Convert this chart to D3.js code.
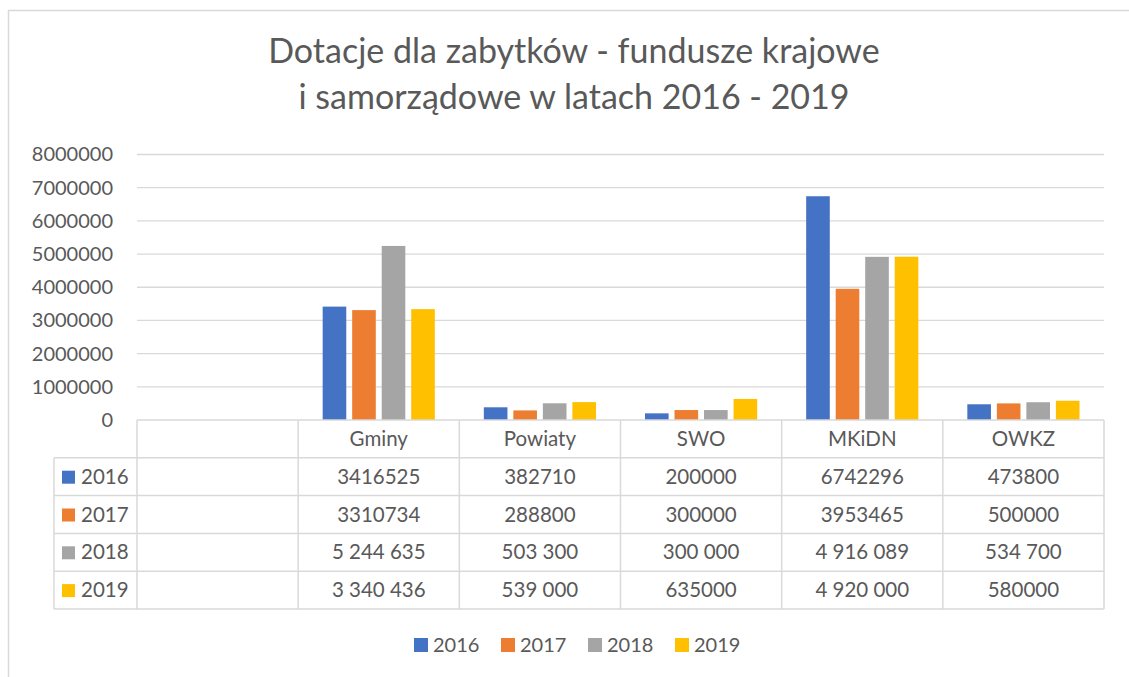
<!DOCTYPE html>
<html>
<head>
<meta charset="utf-8">
<script src="https://cdn.jsdelivr.net/npm/d3@7"></script>
<style>
  body { margin: 0; background: #fff; }
  svg { display: block; font-family: Lato, "Open Sans", sans-serif; }
</style>
</head>
<body>
<svg id="chart" width="1129" height="677"></svg>
<script>
// data (first category is empty in the source)
let categories = ['', 'Gminy', 'Powiaty', 'SWO', 'MKiDN', 'OWKZ'];
let years = ['2016', '2017', '2018', '2019'];
let values2016 = [null, 3416525, 382710, 200000, 6742296, 473800];
let values2017 = [null, 3310734, 288800, 300000, 3953465, 500000];
let values2018 = [null, 5244635, 503300, 300000, 4916089, 534700];
let values2019 = [null, 3340436, 539000, 635000, 4920000, 580000];
// how each cell is written in the table
let label2016 = ['', '3416525', '382710', '200000', '6742296', '473800'];
let label2017 = ['', '3310734', '288800', '300000', '3953465', '500000'];
let label2018 = ['', '5 244 635', '503 300', '300 000', '4 916 089', '534 700'];
let label2019 = ['', '3 340 436', '539 000', '635000', '4 920 000', '580000'];
let yTicks = [0, 1000000, 2000000, 3000000, 4000000, 5000000, 6000000, 7000000, 8000000];
let colors = ['#4472C4', '#ED7D31', '#A5A5A5', '#FFC000'];

let series = [values2016, values2017, values2018, values2019];
let labels = [label2016, label2017, label2018, label2019];

let textColor = '#595959',
    lineColor = '#D9D9D9';

let plot = { left: 137, right: 1104, top: 154.5, bottom: 420 };
let table = { left: 54, rowH: 37.8 };

let $svg = d3.select('#chart');

// outer chart frame
$svg.append('rect')
  .attr('x', 8.5).attr('y', 10.5)
  .attr('width', 1140).attr('height', 700)
  .attr('fill', 'none')
  .attr('stroke', lineColor)
  .attr('stroke-width', 1.5);

// title
$svg.append('text')
  .attr('x', 574).attr('y', 63)
  .attr('text-anchor', 'middle')
  .attr('fill', textColor)
  .style('font-size', '34px')
  .text('Dotacje dla zabytków - fundusze krajowe');
$svg.append('text')
  .attr('x', 574).attr('y', 109)
  .attr('text-anchor', 'middle')
  .attr('fill', textColor)
  .style('font-size', '34px')
  .text('i samorządowe w latach 2016 - 2019');

let x0 = d3.scaleBand()
  .domain(categories.map((d, i) => i))
  .range([plot.left, plot.right])
  .padding(0);

let x1 = d3.scaleBand()
  .domain(years)
  .range([0, x0.bandwidth()])
  .paddingInner(0.2)
  .paddingOuter(0.83);

let y = d3.scaleLinear()
  .domain([0, 8000000])
  .range([plot.bottom, plot.top]);

// gridlines
$svg.append('g')
  .selectAll('line')
  .data(yTicks.filter(d => d > 0))
  .enter()
  .append('line')
  .attr('x1', plot.left).attr('x2', plot.right)
  .attr('y1', d => y(d)).attr('y2', d => y(d))
  .attr('stroke', lineColor)
  .attr('stroke-width', 1.3);

// y axis labels
let yAxis = d3.axisLeft(y)
  .tickValues(yTicks)
  .tickFormat(d3.format('d'))
  .tickSize(0)
  .tickPadding(0);

let $yAxis = $svg.append('g')
  .attr('transform', `translate(${plot.left - 24},0)`)
  .call(yAxis);
$yAxis.select('.domain').remove();
$yAxis.selectAll('text')
  .attr('fill', textColor)
  .style('font-family', 'Lato, "Open Sans", sans-serif')
  .style('font-size', '20px');

// bars
let barData = [];
series.forEach((vals, s) => {
  vals.forEach((v, c) => {
    if (v != null) barData.push({ cat: c, year: years[s], value: v, color: colors[s] });
  });
});

$svg.append('g')
  .selectAll('rect')
  .data(barData)
  .enter()
  .append('rect')
  .attr('x', d => x0(d.cat) + x1(d.year))
  .attr('width', x1.bandwidth())
  .attr('y', d => y(d.value))
  .attr('height', d => y(0) - y(d.value))
  .attr('fill', d => d.color);

// data table
let $table = $svg.append('g');
let rowY = i => plot.bottom + i * table.rowH; // i = 0 header top

// horizontal lines
$table.append('line')
  .attr('x1', plot.left).attr('x2', plot.right)
  .attr('y1', rowY(0)).attr('y2', rowY(0))
  .attr('stroke', lineColor).attr('stroke-width', 1.5);
for (let i = 1; i <= 5; i++) {
  $table.append('line')
    .attr('x1', table.left).attr('x2', plot.right)
    .attr('y1', rowY(i)).attr('y2', rowY(i))
    .attr('stroke', lineColor).attr('stroke-width', 1.5);
}

// vertical lines
$table.append('line')
  .attr('x1', table.left).attr('x2', table.left)
  .attr('y1', rowY(1)).attr('y2', rowY(5))
  .attr('stroke', lineColor).attr('stroke-width', 1.5);
categories.forEach((c, i) => {
  $table.append('line')
    .attr('x1', x0(i)).attr('x2', x0(i))
    .attr('y1', rowY(0)).attr('y2', rowY(5))
    .attr('stroke', lineColor).attr('stroke-width', 1.5);
});
$table.append('line')
  .attr('x1', plot.right).attr('x2', plot.right)
  .attr('y1', rowY(0)).attr('y2', rowY(5))
  .attr('stroke', lineColor).attr('stroke-width', 1.5);

// header labels
$table.selectAll('.cat-label')
  .data(categories)
  .enter()
  .append('text')
  .attr('class', 'cat-label')
  .attr('x', (d, i) => x0(i) + x0.bandwidth() / 2)
  .attr('y', rowY(0) + table.rowH / 2 + 7)
  .attr('text-anchor', 'middle')
  .attr('fill', textColor)
  .style('font-size', '20.5px')
  .text(d => d);

// series rows
years.forEach((yr, s) => {
  let cy = rowY(s + 1) + table.rowH / 2;
  $table.append('rect')
    .attr('x', 62).attr('y', cy - 6)
    .attr('width', 13).attr('height', 13)
    .attr('fill', colors[s]);
  $table.append('text')
    .attr('x', 81).attr('y', cy + 7)
    .attr('fill', textColor)
    .style('font-size', '20.5px')
    .text(yr);
  $table.selectAll(`.val-${s}`)
    .data(labels[s])
    .enter()
    .append('text')
    .attr('class', `val-${s}`)
    .attr('x', (d, i) => x0(i) + x0.bandwidth() / 2)
    .attr('y', cy + 7)
    .attr('text-anchor', 'middle')
    .attr('fill', textColor)
    .style('font-size', '20.5px')
    .text(d => d);
});

// legend
let $legend = $svg.append('g')
  .attr('transform', 'translate(414,645)');
let $items = $legend.selectAll('g')
  .data(years)
  .enter()
  .append('g')
  .attr('transform', (d, i) => `translate(${i * 87},0)`);
$items.append('rect')
  .attr('x', 0).attr('y', -7)
  .attr('width', 14).attr('height', 14)
  .attr('fill', (d, i) => colors[i]);
$items.append('text')
  .attr('x', 19).attr('y', 7)
  .attr('fill', textColor)
  .style('font-size', '20px')
  .text(d => d);
</script>
</body>
</html>
